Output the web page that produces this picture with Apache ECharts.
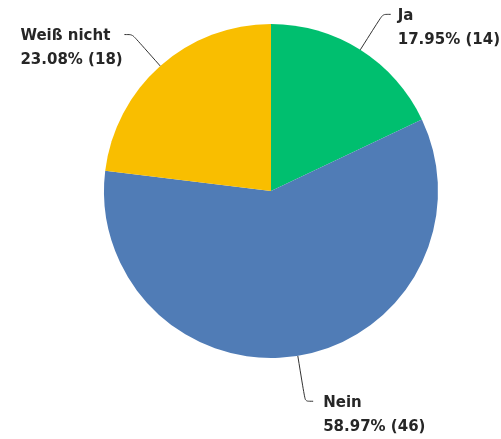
<!DOCTYPE html>
<html>
<head>
<meta charset="utf-8">
<script src="https://cdn.jsdelivr.net/npm/echarts@6/dist/echarts.min.js"></script>
<style>
html,body{margin:0;padding:0;background:#fff;}
#chart{width:501px;height:439px;}
</style>
</head>
<body>
<div id="chart"></div>
<script>
var categories = ['Ja', 'Nein', 'Weiß nicht'];
var counts = [14, 46, 18];
var percents = ['17.95%', '58.97%', '23.08%'];
var colors = ['#00BF6F', '#507CB6', '#F9BE00'];

var chart = echarts.init(document.getElementById('chart'), null, {renderer: 'canvas'});
var LH = 24;
var data = categories.map(function (c, i) {
  var item = { name: c, value: counts[i], pct: percents[i], itemStyle: { color: colors[i] } };
  if (i === 0) item.label = { distanceToLabelLine: 7 };
  if (i === 1) item.labelLine = { length: 46 };
  if (i === 2) item.label = { distanceToLabelLine: 2 };
  return item;
});
chart.setOption({
  animation: false,
  backgroundColor: '#fff',
  series: [{
    type: 'pie',
    center: [271, 191],
    radius: [0, 167],
    startAngle: 90,
    clockwise: true,
    avoidLabelOverlap: false,
    data: data,
    label: {
      show: true,
      position: 'outside',
      formatter: function (p) {
        return '{t|' + p.name + '}\n{t|' + p.data.pct + ' (' + p.value + ')}';
      },
      padding: [LH + 4, 0, 0, 0],
      distanceToLabelLine: 10,
      rich: {
        t: {
          fontFamily: 'DejaVu Sans',
          fontWeight: 'bold',
          fontSize: 15,
          lineHeight: LH,
          color: '#262626',
          width: 102,
          align: 'left'
        }
      }
    },
    labelLine: {
      show: true,
      length: 42,
      length2: 8,
      smooth: 0.25,
      lineStyle: { color: '#333333', width: 1 }
    }
  }]
});
</script>
</body>
</html>
